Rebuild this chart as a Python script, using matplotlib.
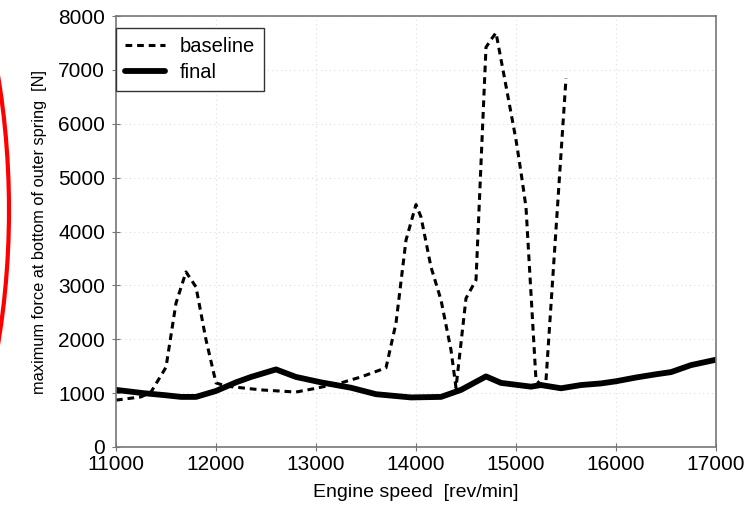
import matplotlib
matplotlib.use("Agg")
import matplotlib.pyplot as plt
from matplotlib.patches import Ellipse

plt.rcParams['font.family'] = ['Liberation Sans', 'DejaVu Sans']

# values
baseline_rpm = [11000, 11250, 11350, 11500, 11600, 11700, 11800, 11900, 12000, 12100,
                12450, 12800, 13000, 13250, 13450, 13700, 13800, 13900, 14000, 14050,
                14150, 14250, 14350, 14400, 14500, 14600, 14700, 14750, 14800, 14900,
                15000, 15050, 15100, 15200, 15250, 15300, 15500]
baseline_force = [870, 930, 1020, 1480, 2670, 3250, 2970, 1990, 1190, 1130,
                  1060, 1020, 1090, 1190, 1300, 1470, 2300, 3840, 4500, 4270,
                  3340, 2730, 1800, 1100, 2760, 3100, 7420, 7560, 7690, 6700,
                  5700, 5100, 4450, 1240, 1160, 1240, 6840]

final_rpm = [11000, 11270, 11500, 11650, 11800, 12000, 12200, 12350, 12600, 12800,
             13050, 13350, 13600, 13950, 14250, 14450, 14700, 14850, 15150, 15250,
             15450, 15650, 15850, 16000, 16200, 16400, 16550, 16750, 17000]
final_force = [1060, 1000, 960, 930, 930, 1040, 1200, 1300, 1440, 1300,
               1200, 1100, 980, 920, 930, 1060, 1310, 1190, 1120, 1150,
               1090, 1150, 1180, 1220, 1290, 1350, 1390, 1520, 1620]

x_ticks = [11000, 12000, 13000, 14000, 15000, 16000, 17000]
y_ticks = [0, 1000, 2000, 3000, 4000, 5000, 6000, 7000, 8000]

fig = plt.figure(figsize=(7.47, 5.12), dpi=100)
ax = fig.add_axes([116 / 747, 65 / 512, 600 / 747, 431 / 512])

ax.plot(baseline_rpm, baseline_force, color='black', lw=2.2,
        linestyle=(0, (2.2, 1.6)), label='baseline')
ax.plot(final_rpm, final_force, color='black', lw=4.2,
        solid_capstyle='round', solid_joinstyle='round', label='final')

ax.set_xlim(11000, 17000)
ax.set_ylim(0, 8000)
ax.set_xticks(x_ticks)
ax.set_yticks(y_ticks)
ax.tick_params(labelsize=15, direction='inout', length=6, color='#777777')
ax.tick_params(axis='y', pad=5)
ax.tick_params(axis='x', pad=3)
ax.grid(True, color='#dddddd', linestyle=(0, (1, 3)), lw=0.8)
for s in ax.spines.values():
    s.set_color('#777777')
    s.set_linewidth(1.2)

ax.set_xlabel('Engine speed  [rev/min]', fontsize=14, labelpad=7)
ax.set_ylabel('maximum force at bottom of outer spring  [N]', fontsize=11.8, labelpad=8)

leg = ax.legend(loc='upper left', bbox_to_anchor=(0, 0.972), borderaxespad=0,
                fancybox=False, edgecolor='#333333', fontsize=14.5,
                handlelength=2.0, handletextpad=0.7, borderpad=0.45,
                labelspacing=0.35, frameon=True, framealpha=1)
leg.get_frame().set_linewidth(1.0)

# red hand-drawn arc at the left edge
arc = Ellipse((-200 / 747, 1 - 210 / 512), 2 * 209 / 747, 2 * 420 / 512,
              transform=fig.transFigure, fill=False, edgecolor='red', lw=3)
fig.patches.append(arc)

fig.savefig('out.png', dpi=100)
